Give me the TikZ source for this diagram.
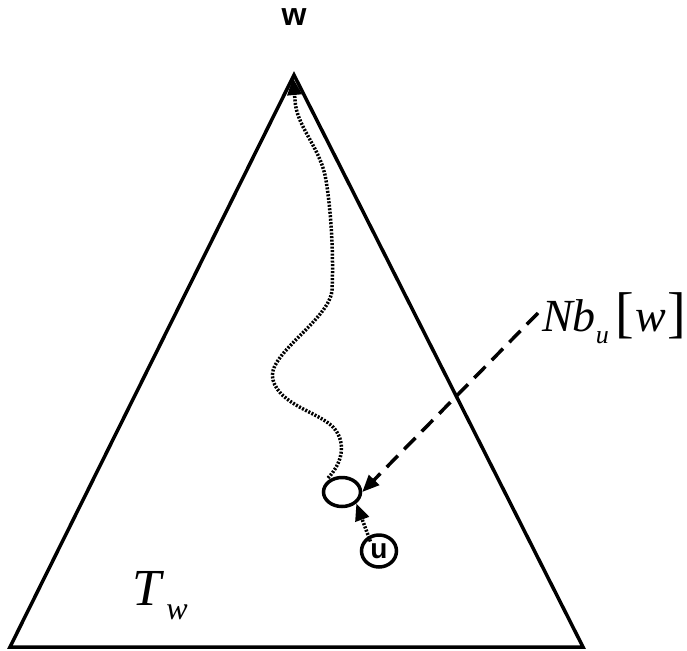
\documentclass[tikz,border=0pt]{standalone}
\usepackage{fontspec}
\setmainfont{Liberation Serif}
\newfontfamily\labsans{Liberation Sans}
\usetikzlibrary{arrows.meta,shapes.geometric}
\begin{document}
\begin{tikzpicture}[x=1pt,y=-1pt,
  edge/.style={line width=3.5pt,line join=miter},
  walk/.style={line width=3.5pt,dash pattern=on 2pt off 1.5pt},
  tip/.style={-{Triangle[length=17pt,width=14pt]}},
  ring/.style={draw,line width=3.5pt,ellipse,inner sep=0pt},
  lbl/.style={inner sep=0pt}]
\useasboundingbox (0,0) rectangle (687,650);
\coordinate (apex) at (294,75);
\coordinate (bl) at (10,647);
\coordinate (br) at (583,647);
\draw[edge] (bl) -- (apex) -- (br) -- cycle;
\node[lbl,font=\labsans\bfseries\fontsize{32}{32}\selectfont] (w) at (294,17) {w};
\node[ring,minimum width=37pt,minimum height=29pt] (c) at (342,492) {};
\node[ring,minimum width=35pt,minimum height=32pt,font=\labsans\bfseries\fontsize{28}{28}\selectfont] (u) at (379,551) {\raisebox{-5pt}{u}};
\node[lbl,anchor=west,font=\fontsize{46}{46}\selectfont] (nb) at (542,318) {\textit{Nb}\raisebox{-12pt}{\fontsize{26}{26}\selectfont\textit{u}}\hspace{7pt}{\fontsize{56}{56}\selectfont[}\hspace{1pt}\textit{w}\hspace{1pt}{\fontsize{56}{56}\selectfont]}};
\node[lbl,font=\fontsize{52}{52}\selectfont] (tw) at (160,596) {\textit{T}\hspace{2pt}\raisebox{-14pt}{\fontsize{32}{32}\selectfont\textit{w}}};
\coordinate (wend) at (328,478);
\coordinate (wtop) at (293,78);
\draw[walk,tip] (wend) .. controls (345,460) and (345,440) .. (333,427)
  .. controls (318,412) and (280,405) .. (273,380)
  .. controls (265,355) and (330,320) .. (332,290)
  .. controls (334,250) and (330,200) .. (325,175)
  .. controls (318,145) and (296,125) .. (295,100) -- (wtop);
\draw[walk,tip] (u.north west) ++(5,3) -- (c.south east);
\draw[line width=3.5pt,dash pattern=on 16pt off 9pt,tip] (538,313) coordinate (nbt) (nbt) -- (c.east);
\end{tikzpicture}
\end{document}
